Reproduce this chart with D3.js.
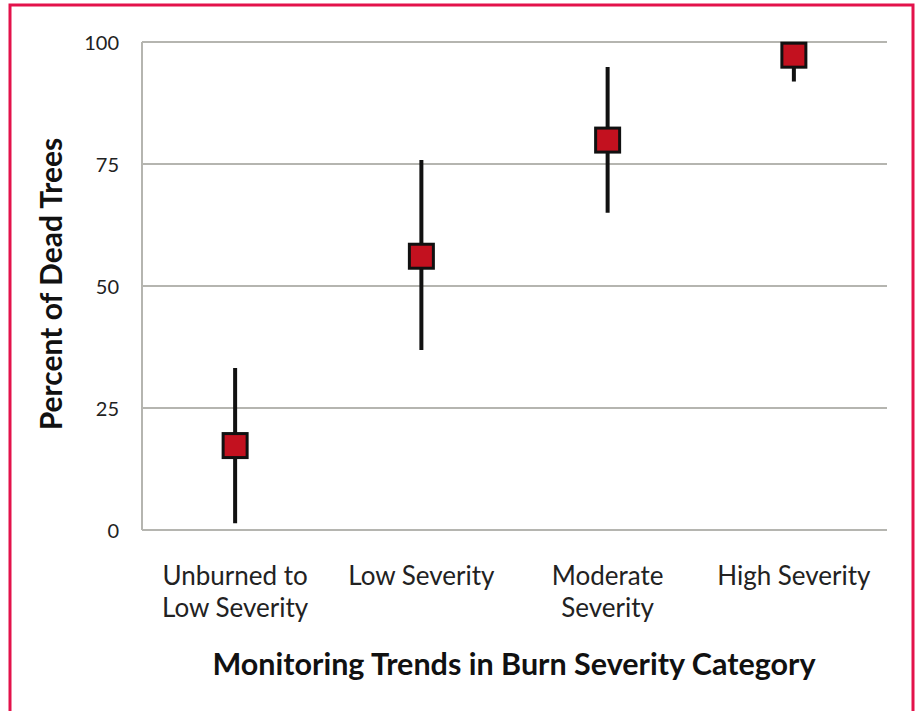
<!DOCTYPE html>
<html><head><meta charset="utf-8">
<script src="https://cdn.jsdelivr.net/npm/d3@7"></script>
<style>body{margin:0;background:#fff;} svg{display:block;}</style>
</head><body>
<svg id="chart" width="919" height="711"></svg>
<script>
const categories = [["Unburned to","Low Severity"],["Low Severity"],["Moderate","Severity"],["High Severity"]];
const means = [17.3, 56.1, 79.9, 97.3];
const lower = [1.4, 36.9, 65.0, 91.9];
const upper = [33.2, 75.8, 94.9, 100];
const yTicks = [0, 25, 50, 75, 100];

const svg = d3.select("#chart");
const font = "Lato, sans-serif";
// frame
svg.append("path").attr("d","M10,713 L10,5 L913,5 L913,713").attr("fill","none").attr("stroke","#e3124b").attr("stroke-width",3);

const m = {left:142, right:887, top:42, bottom:530};
const x = d3.scaleBand().domain(d3.range(categories.length)).range([m.left, m.right]);
const y = d3.scaleLinear().domain([0,100]).range([m.bottom, m.top]);

// gridlines
svg.append("g").selectAll("line").data(yTicks).join("line")
  .attr("x1", m.left).attr("x2", m.right)
  .attr("y1", d=>y(d)).attr("y2", d=>y(d))
  .attr("stroke","#b5b5b0").attr("stroke-width",2);
svg.append("line").attr("x1",m.left).attr("x2",m.left).attr("y1",y(100)).attr("y2",y(0))
  .attr("stroke","#b5b5b0").attr("stroke-width",2);

// y axis labels
const yAxis = d3.axisLeft(y).tickValues(yTicks).tickSize(0).tickPadding(23);
const ga = svg.append("g").attr("transform",`translate(${m.left},0)`).call(yAxis);
ga.select(".domain").remove();
ga.selectAll("text").attr("font-family",font).attr("font-size",20).attr("fill","#222").attr("dy","0.38em");

// category labels
const cl = svg.append("g").selectAll("text").data(categories).join("text")
  .attr("x",(d,i)=>x(i)+x.bandwidth()/2).attr("y",585)
  .attr("text-anchor","middle").attr("font-family",font).attr("font-size",26).attr("fill","#222");
cl.selectAll("tspan").data(d=>d).join("tspan")
  .attr("x",function(){return this.parentNode.getAttribute("x");})
  .attr("dy",(d,i)=>i===0?0:32).text(d=>d);

// error bars
svg.append("g").selectAll("line").data(means).join("line")
  .attr("x1",(d,i)=>x(i)+x.bandwidth()/2).attr("x2",(d,i)=>x(i)+x.bandwidth()/2)
  .attr("y1",(d,i)=>y(lower[i])).attr("y2",(d,i)=>y(upper[i]))
  .attr("stroke","#111").attr("stroke-width",4);

// markers
const s = 24;
svg.append("g").selectAll("rect").data(means).join("rect")
  .attr("x",(d,i)=>x(i)+x.bandwidth()/2 - s/2).attr("y",d=>y(d)-s/2)
  .attr("width",s).attr("height",s)
  .attr("fill","#c3111f").attr("stroke","#111").attr("stroke-width",3);

// axis titles
svg.append("text").attr("transform","translate(62,284) rotate(-90)")
  .attr("text-anchor","middle").attr("font-family",font).attr("font-weight","bold")
  .attr("font-size",30).attr("fill","#111").text("Percent of Dead Trees");
svg.append("text").attr("x",514).attr("y",675)
  .attr("text-anchor","middle").attr("font-family",font).attr("font-weight","bold")
  .attr("font-size",30.5).attr("fill","#111").text("Monitoring Trends in Burn Severity Category");
</script>
</body></html>
